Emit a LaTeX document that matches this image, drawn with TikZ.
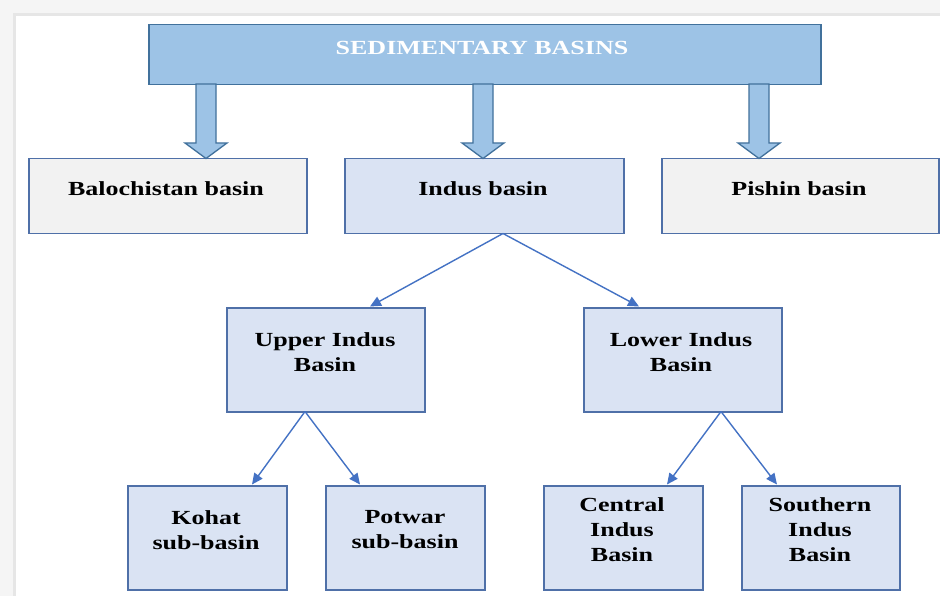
\documentclass[tikz,border=0pt]{standalone}
\usepackage{fontspec}
\setmainfont{Liberation Serif}[FakeStretch=1.3]
\usetikzlibrary{arrows.meta}
\definecolor{topfill}{HTML}{9DC3E6}
\definecolor{topline}{HTML}{41719C}
\definecolor{greyfill}{HTML}{F2F2F2}
\definecolor{bluefill}{HTML}{DAE3F3}
\definecolor{boxline}{HTML}{4F70A8}
\definecolor{conn}{HTML}{4472C4}
\definecolor{frame}{HTML}{F5F5F5}
\definecolor{frameline}{HTML}{E6E6E6}
\tikzset{
  basebox/.style={draw=boxline, line width=1.5pt, inner sep=0pt, anchor=north west},
  txt/.style={font=\fontsize{20}{25}\selectfont\bfseries, align=center},
  conna/.style={draw=conn, line width=1.4pt, -{Triangle[length=11pt,width=10pt]}},
  blockarrow/.style={fill=topfill, draw=topline, line width=1.3pt, line join=miter},
}
\begin{document}
\begin{tikzpicture}[x=1pt,y=-1pt]
% frame
\fill[frame] (0,0) rectangle (940,596);
\fill[frameline] (13,13) rectangle (940,596);
\fill[white] (16,16) rectangle (940,596);
\useasboundingbox (0,0) rectangle (940,596);

% top box
\node[basebox, fill=topfill, draw=topline, minimum width=672pt, minimum height=60pt] (top) at (148,24) {};
\node[txt, text=white] (toptxt) at (482,48) {SEDIMENTARY BASINS};

% row 2
\node[basebox, fill=greyfill, minimum width=278pt, minimum height=75pt] (bal) at (28,158) {};
\node[basebox, fill=bluefill, minimum width=279pt, minimum height=75pt] (indus) at (344,158) {};
\node[basebox, fill=greyfill, minimum width=277pt, minimum height=75pt] (pish) at (661,158) {};
\node[txt] at (166,189) {Balochistan basin};
\node[txt] at (483,189) {Indus basin};
\node[txt] at (799,189) {Pishin basin};

% block arrows
\foreach \cx/\nm in {206/a1, 483/a2, 759/a3}{
  \draw[blockarrow] (\cx-10,84) -- (\cx+10,84) -- (\cx+10,143) -- (\cx+21,143) -- (\cx,158.5)
     -- (\cx-21,143) -- (\cx-10,143) -- cycle;
}

% row 3
\node[basebox, fill=bluefill, minimum width=198pt, minimum height=104pt] (upper) at (226,307) {};
\node[basebox, fill=bluefill, minimum width=198pt, minimum height=104pt] (lower) at (583,307) {};
\node[txt] at (325,352) {Upper Indus\\Basin};
\node[txt] at (681,352) {Lower Indus\\Basin};

% row 4
\node[basebox, fill=bluefill, minimum width=159pt, minimum height=104pt] (kohat) at (127,485) {};
\node[basebox, fill=bluefill, minimum width=159pt, minimum height=104pt] (potwar) at (325,485) {};
\node[basebox, fill=bluefill, minimum width=159pt, minimum height=104pt] (central) at (543,485) {};
\node[basebox, fill=bluefill, minimum width=158pt, minimum height=104pt] (south) at (741,485) {};
\node[txt] at (206,530) {Kohat\\sub-basin};
\node[txt] at (405,530) {Potwar\\sub-basin};
\node[txt] at (622,530) {Central\\Indus\\Basin};
\node[txt] at (820,530) {Southern\\Indus\\Basin};

% connectors
\coordinate (ib) at (503,233.5);
\coordinate (ub) at (305,411.5);
\coordinate (lb) at (721,411.5);
\draw[conna] (ib) -- (370,306.5);
\draw[conna] (ib) -- (639,306.5);
\draw[conna] (ub) -- (252,484.5);
\draw[conna] (ub) -- (360,484.5);
\draw[conna] (lb) -- (667,484.5);
\draw[conna] (lb) -- (777,484.5);
\end{tikzpicture}
\end{document}
